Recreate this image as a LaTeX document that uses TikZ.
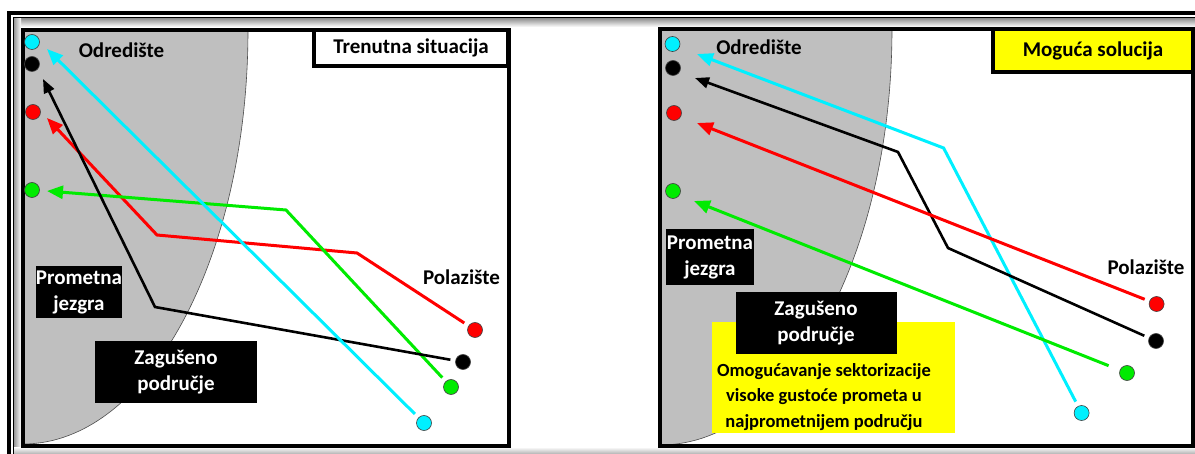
\documentclass[tikz,border=0pt]{standalone}
\usepackage{fontspec}
\setmainfont{Carlito}
\usetikzlibrary{arrows.meta,positioning}

\definecolor{zoneGray}{RGB}{191,191,191}
\definecolor{aqua}{RGB}{0,240,255}
\definecolor{lime}{RGB}{0,235,0}
\definecolor{hiYellow}{RGB}{255,255,0}

\tikzset{
  circC/.style={ draw=black!75, circle, fill=aqua, minimum size=15pt, inner sep=0pt, line width=0.6pt }
}
\tikzset{
  circK/.style={ draw=black!75, circle, fill=black, minimum size=15pt, inner sep=0pt, line width=0.6pt }
}
\tikzset{
  circR/.style={ draw=black!75, circle, fill=red, minimum size=15pt, inner sep=0pt, line width=0.6pt }
}
\tikzset{
  circG/.style={ draw=black!75, circle, fill=lime, minimum size=15pt, inner sep=0pt, line width=0.6pt }
}
\tikzset{
  lbl/.style={ font=\fontsize{21}{26}\selectfont\bfseries, align=center, inner sep=0pt }
}
\tikzset{
  boxK/.style={ lbl, fill=black, text=white }
}
\tikzset{
  route/.style={ line width=3pt, -{Triangle[length=16pt,width=13pt]}, shorten <=5pt }
}
\tikzset{
  routeK/.style={ line width=2.6pt, -{Triangle[length=14pt,width=11pt]}, shorten <=5pt }
}

\begin{document}
\begin{tikzpicture}[x=1pt, y=-1pt]
  \useasboundingbox (0,0) rectangle (1195,454);
  \fill[white] (0,0) rectangle (1195,454);

  % outer frame and shadows
  \shade[top color=black!45, bottom color=white] (14,18) rectangle (1195,27);
  \shade[left color=black!40, right color=white] (14,18) rectangle (21,447);
  \shade[top color=white, bottom color=black!30] (14,447) rectangle (1195,454);
  \draw[line width=4pt] (9,454) -- (9,13) -- (1195,13);
  \draw[line width=1.2pt] (13.8,454) -- (13.8,17.3) -- (1195,17.3);

  % left panel: current situation
  \fill[zoneGray] (23,30) -- (248,30) arc[start angle=0, end angle=90, x radius=225, y radius=414] -- cycle;
  \draw[black!70, line width=0.6pt] (248,30) arc[start angle=0, end angle=90, x radius=225, y radius=414];
  \draw[line width=4pt] (23,30) rectangle (508.5,446);
  \node[lbl, draw, line width=4pt, fill=white, minimum width=194pt, minimum height=36pt] (nowBox) at (411,48) {Trenutna situacija};

  \node[lbl] (dstL) at (121.5,50) {Odredište};
  \node[lbl] (srcL) at (461.5,277) {Polazište};
  \node[boxK, minimum width=86pt, minimum height=52pt] (coreL) at (79,292) {Prometna\\jezgra};
  \node[boxK, minimum width=162pt, minimum height=62pt] (jamL) at (176,372) {Zagušeno\\područje};

  \coordinate (tipC1) at (47,49);
  \coordinate (tipK1) at (43,79);
  \coordinate (tipR1) at (47,118);
  \coordinate (tipG1) at (47,191);

  \node[circC] (dstC1) at (32,42) {};
  \node[circK] (dstK1) at (32,64) {};
  \node[circR] (dstR1) at (33,112) {};
  \node[circG] (dstG1) at (32,190) {};
  \node[circR] (srcR1) at (475,330) {};
  \node[circK] (srcK1) at (463,362) {};
  \node[circG] (srcG1) at (451,387) {};
  \node[circC] (srcC1) at (424,423) {};

  \draw[route, red] (srcR1) -- (357,253) -- (157,235) -- (tipR1);
  \draw[route, lime] (srcG1) -- (286,210) -- (tipG1);
  \draw[routeK, black] (srcK1) -- (155,307) -- (tipK1);
  \draw[route, aqua] (srcC1) -- (tipC1);

  % right panel: possible solution
  \fill[zoneGray] (660,29) -- (892,29) arc[start angle=0, end angle=90, x radius=232, y radius=416] -- cycle;
  \draw[black!70, line width=0.6pt] (892,29) arc[start angle=0, end angle=90, x radius=232, y radius=416];
  \draw[line width=4pt] (660,29) rectangle (1193,445.5);
  \node[lbl, draw, line width=4pt, fill=hiYellow, minimum width=200pt, minimum height=43pt] (solBox) at (1093,50.5) {Moguća solucija};

  \node[lbl] (dstR) at (759,47) {Odredište};
  \node[lbl] (srcR) at (1146,267) {Polazište};
  \node[boxK, minimum width=87.5pt, minimum height=56pt] (coreR) at (710,257) {Prometna\\jezgra};
  \node[fill=hiYellow, minimum width=243.5pt, minimum height=111pt, inner sep=0pt] (sectY) at (833.3,377.5) {};
  \node[lbl, font=\fontsize{18.5}{25.5}\selectfont\bfseries] (sectTxt) at (824,397) {Omogućavanje sektorizacije\\visoke gustoće prometa u\\najprometnijem području};
  \node[boxK, minimum width=161pt, minimum height=62pt] (jamR) at (816,323) {Zagušeno\\područje};

  \coordinate (tipC2) at (697,54);
  \coordinate (tipK2) at (695,78);
  \coordinate (tipR2) at (697,123);
  \coordinate (tipG2) at (694,201);

  \node[circC] (dstC2) at (672.5,44) {};
  \node[circK] (dstK2) at (673,68) {};
  \node[circR] (dstR2) at (674,113) {};
  \node[circG] (dstG2) at (673,191) {};
  \node[circR] (srcR2) at (1156.6,304) {};
  \node[circK] (srcK2) at (1156,341) {};
  \node[circG] (srcG2) at (1127,373) {};
  \node[circC] (srcC2) at (1081.6,413) {};

  \draw[route, aqua] (srcC2) -- (943.6,148) -- (tipC2);
  \draw[routeK, black] (srcK2) -- (948,248) -- (898,152) -- (tipK2);
  \draw[route, red] (srcR2) -- (tipR2);
  \draw[route, lime, shorten <=12pt] (srcG2) -- (tipG2);
\end{tikzpicture}
\end{document}
